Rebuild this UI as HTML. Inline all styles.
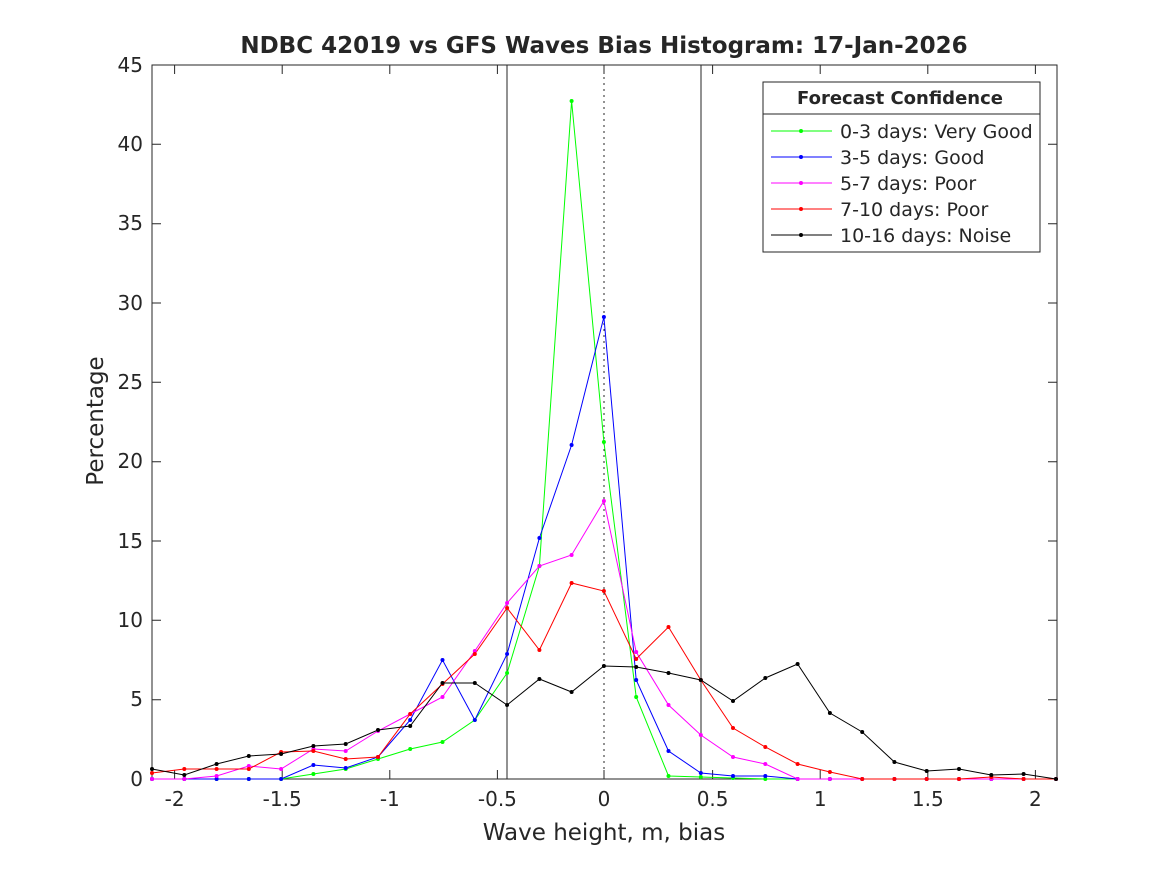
<!DOCTYPE html>
<html><head><meta charset="utf-8"><style>body{margin:0;background:#fff}svg{display:block}text{font-family:"DejaVu Sans","Liberation Sans",sans-serif;fill:#262626}</style></head><body>
<svg width="1167" height="875" viewBox="0 0 1167 875">
<rect width="1167" height="875" fill="#fff"/>
<rect x="152" y="65" width="905" height="714" fill="#fff" stroke="#262626" stroke-width="1"/>
<g stroke="#262626" stroke-width="1">
<line x1="507" y1="65" x2="507" y2="779"/><line x1="701" y1="65" x2="701" y2="779"/>
<line x1="604" y1="65" x2="604" y2="779" stroke-dasharray="2,4"/>
</g>
<g stroke="#262626">
<path d="M174.6 779v-9M282.2 779v-9M389.8 779v-9M497.4 779v-9M604 779v-9M712.6 779v-9M820.2 779v-9M927.8 779v-9M1035.4 779v-9M174.6 65v9M282.2 65v9M389.8 65v9M497.4 65v9M604 65v9M712.6 65v9M820.2 65v9M927.8 65v9M1035.4 65v9"/>
<path d="M152 779h9M152 699.7h9M152 620.3h9M152 541h9M152 461.7h9M152 382.3h9M152 303h9M152 223.7h9M152 144.3h9M152 65h9M1057 699.7h-9M1057 620.3h-9M1057 541h-9M1057 461.7h-9M1057 382.3h-9M1057 303h-9M1057 223.7h-9M1057 144.3h-9"/>
</g>
<g font-size="20" text-anchor="middle">
<text x="174.6" y="806">-2</text><text x="282.2" y="806">-1.5</text><text x="389.8" y="806">-1</text><text x="497.4" y="806">-0.5</text><text x="604" y="806">0</text><text x="712.6" y="806">0.5</text><text x="820.2" y="806">1</text><text x="927.8" y="806">1.5</text><text x="1035.4" y="806">2</text>
</g>
<g font-size="20" text-anchor="end">
<text x="143" y="786">0</text><text x="143" y="706">5</text><text x="143" y="627">10</text><text x="143" y="548">15</text><text x="143" y="468">20</text><text x="143" y="389">25</text><text x="143" y="310">30</text><text x="143" y="230">35</text><text x="143" y="151">40</text><text x="143" y="72">45</text>
</g>
<text x="604" y="840" font-size="23" text-anchor="middle">Wave height, m, bias</text>
<text transform="translate(103,421) rotate(-90)" font-size="23" text-anchor="middle">Percentage</text>
<text x="604" y="53" font-size="23" font-weight="bold" text-anchor="middle" fill="#000">NDBC 42019 vs GFS Waves Bias Histogram: 17-Jan-2026</text>
<g fill="none" stroke-width="1">
<polyline stroke="#00ff00" points="152,779 184.3,779 216.6,779 248.8,779 281.1,779 313.4,774 345.7,769 378,759 410.2,749 442.5,742 474.8,720 507.1,673 539.4,566 571.6,101 603.9,442 636.2,697 668.5,776 700.8,777 733,778 765.3,779 797.6,779 829.9,779 862.2,779 894.4,779 926.7,779 959,779 991.3,779 1023.6,779 1056,779"/>
<polyline stroke="#0000ff" points="152,779 184.3,779 216.6,779 248.8,779 281.1,779 313.4,765 345.7,768 378,757 410.2,720 442.5,660 474.8,720 507.1,654 539.4,538 571.6,445 603.9,317 636.2,680 668.5,751 700.8,773 733,776 765.3,776 797.6,779 829.9,779 862.2,779 894.4,779 926.7,779 959,779 991.3,779 1023.6,779 1056,779"/>
<polyline stroke="#ff00ff" points="152,779 184.3,779 216.6,776 248.8,766 281.1,769 313.4,749 345.7,751 378,731 410.2,714 442.5,697 474.8,651 507.1,603 539.4,566 571.6,555 603.9,501 636.2,652 668.5,705 700.8,735 733,757 765.3,764 797.6,779 829.9,779 862.2,779 894.4,779 926.7,779 959,779 991.3,779 1023.6,779 1056,779"/>
<polyline stroke="#ff0000" points="152,773 184.3,769 216.6,769 248.8,769 281.1,752 313.4,751 345.7,759 378,757 410.2,714 442.5,684 474.8,654 507.1,608 539.4,650 571.6,583 603.9,591 636.2,659 668.5,627 700.8,680 733,728 765.3,747 797.6,764 829.9,772 862.2,779 894.4,779 926.7,779 959,779 991.3,777 1023.6,779 1056,779"/>
<polyline stroke="#000000" points="152,769 184.3,775 216.6,764 248.8,756 281.1,754 313.4,746 345.7,744 378,730 410.2,726 442.5,683 474.8,683 507.1,705 539.4,679 571.6,692 603.9,666 636.2,667 668.5,673 700.8,680 733,701 765.3,678 797.6,664 829.9,713 862.2,732 894.4,762 926.7,771 959,769 991.3,775 1023.6,774 1056,779"/>
</g>
<rect x="763" y="82" width="277" height="170" fill="#fff" stroke="#262626"/>
<line x1="763" y1="114" x2="1040" y2="114" stroke="#262626"/>
<text x="900" y="104" font-size="18" font-weight="bold" text-anchor="middle" fill="#000">Forecast Confidence</text>
<g font-size="19">
<line x1="771" y1="131" x2="832" y2="131" stroke="#00ff00"/><circle cx="801" cy="131" r="2" fill="#00ff00"/><text x="840" y="138">0-3 days: Very Good</text>
<line x1="771" y1="157" x2="832" y2="157" stroke="#0000ff"/><circle cx="801" cy="157" r="2" fill="#0000ff"/><text x="840" y="164">3-5 days: Good</text>
<line x1="771" y1="183" x2="832" y2="183" stroke="#ff00ff"/><circle cx="801" cy="183" r="2" fill="#ff00ff"/><text x="840" y="190">5-7 days: Poor</text>
<line x1="771" y1="209" x2="832" y2="209" stroke="#ff0000"/><circle cx="801" cy="209" r="2" fill="#ff0000"/><text x="840" y="216">7-10 days: Poor</text>
<line x1="771" y1="235" x2="832" y2="235" stroke="#000"/><circle cx="801" cy="235" r="2" fill="#000"/><text x="840" y="242">10-16 days: Noise</text>
</g>
<script>
var cols=["#00ff00","#0000ff","#ff00ff","#ff0000","#000000"],pl=document.querySelectorAll("polyline"),ns="http://www.w3.org/2000/svg";
pl.forEach(function(p,i){p.getAttribute("points").trim().split(/\s+/).forEach(function(s){var a=s.split(","),c=document.createElementNS(ns,"circle");c.setAttribute("cx",a[0]);c.setAttribute("cy",a[1]);c.setAttribute("r","2");c.setAttribute("fill",cols[i]);p.parentNode.appendChild(c);});});
</script>
</svg>
</body></html>
